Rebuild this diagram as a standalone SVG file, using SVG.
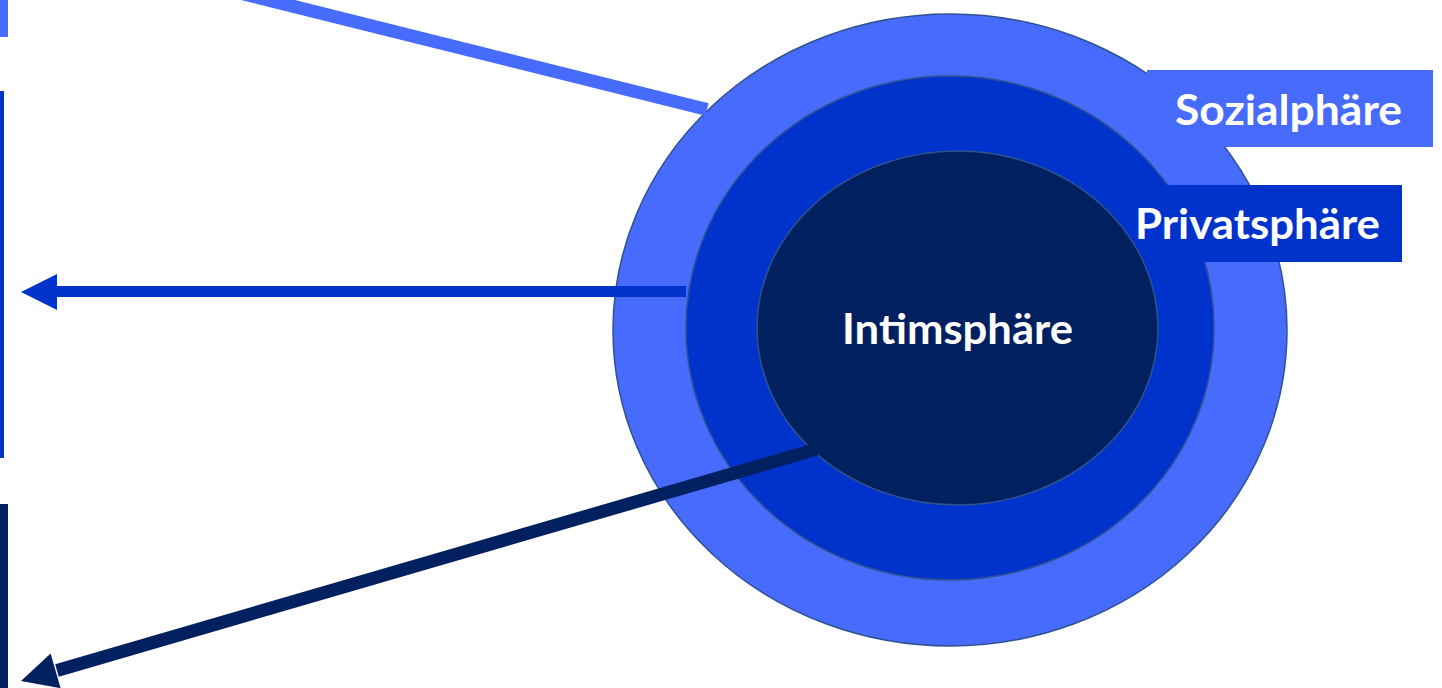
<svg xmlns="http://www.w3.org/2000/svg" width="1442" height="688" viewBox="0 0 1442 688">
<style>
.outline{stroke:#2F528F;stroke-width:1.5}
.lbl{font-family:Lato,"Open Sans","Liberation Sans",sans-serif;font-weight:bold;font-size:42px;fill:#FFFFFF}
.c1{fill:#476BFC}
.c2{fill:#0033CC}
.c3{fill:#002060}
</style>
<rect width="1442" height="688" fill="#FFFFFF"/>
<g id="bars">
<rect class="c1" x="0" y="0" width="8" height="37"/>
<rect class="c2" x="0" y="91" width="4" height="367"/>
<rect class="c3" x="0" y="504" width="8" height="184"/>
</g>
<g id="sozialsphaere">
<ellipse class="c1 outline" cx="950" cy="330" rx="337" ry="316"/>
<rect class="c1" x="1147" y="70" width="286" height="77"/>
<text class="lbl" x="1175" y="125" textLength="227" lengthAdjust="spacingAndGlyphs">Sozialphäre</text>
</g>
<g id="privatsphaere">
<ellipse class="c2 outline" cx="950" cy="328" rx="264" ry="252"/>
<rect class="c2" x="1125" y="185" width="277" height="77"/>
<text class="lbl" x="1135" y="239" textLength="245" lengthAdjust="spacingAndGlyphs">Privatsphäre</text>
</g>
<g id="intimsphaere">
<ellipse class="c3 outline" cx="957.5" cy="328" rx="200.5" ry="177"/>
<text class="lbl" x="842" y="344" textLength="231" lengthAdjust="spacingAndGlyphs">Intimsphäre</text>
</g>
<g id="connectors">
<line x1="240" y1="-7" x2="707" y2="109.5" stroke="#476BFC" stroke-width="13"/>
<line x1="686" y1="291.5" x2="55" y2="291.5" stroke="#0033CC" stroke-width="11"/>
<polygon points="21,292 57,274 57,310" fill="#0033CC"/>
<line x1="817" y1="449" x2="57" y2="670.5" stroke="#002060" stroke-width="13"/>
<polygon points="21,681 50.6,653.6 60.6,688.2" fill="#002060"/>
</g>
</svg>
